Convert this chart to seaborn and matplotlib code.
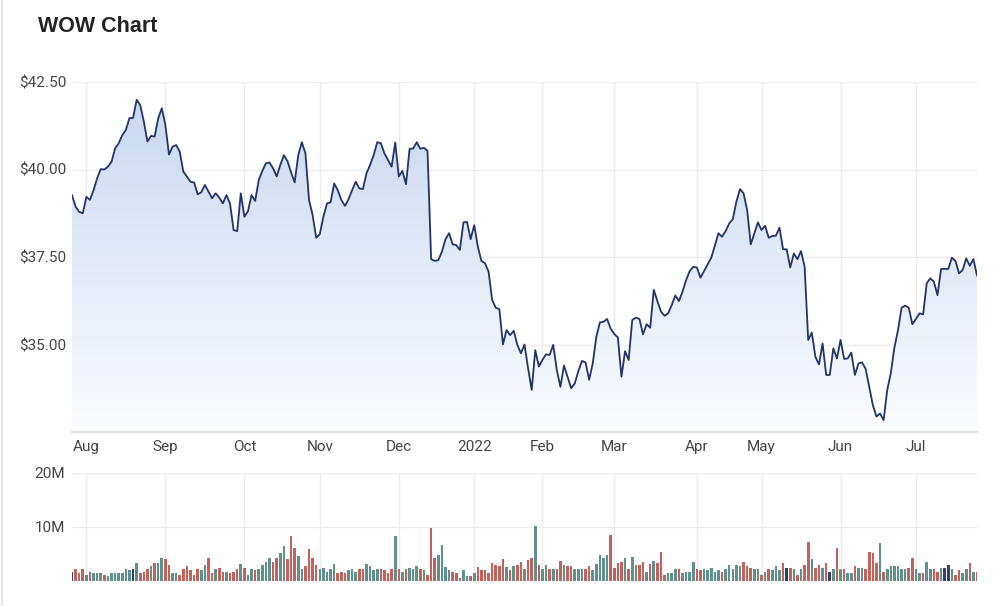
import numpy as np
import pandas as pd
import matplotlib
matplotlib.use("Agg")
import matplotlib.pyplot as plt
import seaborn as sns
from matplotlib.colors import LinearSegmentedColormap
from matplotlib.lines import Line2D

# ---------------- data ----------------
start_date = "2021-07-27"
end_date = "2022-07-26"
market_holidays = ["2021-12-27", "2021-12-28", "2022-01-03", "2022-01-26",
                   "2022-04-15", "2022-04-18", "2022-04-25", "2022-06-13"]

close_price = [
    39.27, 38.94, 38.79, 38.75, 39.22, 39.13, 39.41, 39.75, 40.01, 40.00,
    40.08, 40.22, 40.60, 40.75, 40.98, 41.13, 41.47, 41.47, 41.99, 41.84,
    41.37, 40.80, 40.96, 40.94, 41.46, 41.75, 41.27, 40.43, 40.65, 40.70,
    40.51, 39.94, 39.80, 39.65, 39.63, 39.29, 39.35, 39.56, 39.37, 39.18,
    39.32, 39.20, 39.03, 39.27, 39.03, 38.27, 38.24, 39.32, 38.65, 38.81,
    39.27, 39.10, 39.70, 39.96, 40.18, 40.20, 40.03, 39.80, 40.13, 40.41,
    40.24, 39.92, 39.63, 40.41, 40.78, 40.46, 39.13, 38.70, 38.05, 38.15,
    38.65, 39.03, 39.06, 39.60, 39.41, 39.13, 38.96, 39.15, 39.41, 39.65,
    39.46, 39.44, 39.89, 40.13, 40.41, 40.78, 40.75, 40.46, 40.27, 40.08,
    40.77, 39.80, 39.96, 39.58, 40.59, 40.60, 40.78, 40.59, 40.62, 40.53,
    37.44, 37.39, 37.41, 37.65, 38.01, 38.18, 37.86, 37.84, 37.70, 38.49,
    38.50, 38.01, 38.41, 37.80, 37.39, 37.32, 37.08, 36.27, 36.05, 36.01,
    35.00, 35.41, 35.27, 35.39, 34.99, 34.75, 35.00, 34.32, 33.70, 34.84,
    34.37, 34.56, 34.72, 34.70, 34.99, 34.27, 33.79, 34.40, 34.08, 33.75,
    33.89, 34.24, 34.53, 34.49, 33.99, 34.46, 35.22, 35.63, 35.65, 35.73,
    35.45, 35.30, 35.20, 34.08, 34.81, 34.56, 35.70, 35.77, 35.73, 35.29,
    35.58, 35.48, 36.56, 36.24, 35.94, 35.82, 35.89, 36.13, 36.40, 36.24,
    36.51, 36.84, 37.10, 37.22, 37.20, 36.91, 37.10, 37.29, 37.48, 37.82,
    38.18, 38.08, 38.24, 38.46, 38.58, 39.08, 39.44, 39.32, 38.84, 37.86,
    38.18, 38.49, 38.27, 38.39, 38.05, 38.10, 38.11, 38.34, 37.72, 37.72,
    37.20, 37.60, 37.44, 37.67, 37.22, 35.13, 35.34, 34.65, 34.43, 35.03,
    34.13, 34.13, 34.89, 34.60, 35.13, 34.59, 34.60, 34.77, 34.13, 34.46,
    34.49, 34.30, 33.79, 33.27, 32.94, 33.03, 32.84, 33.70, 34.18, 34.91,
    35.41, 36.05, 36.11, 36.05, 35.58, 35.73, 35.89, 35.86, 36.75, 36.89,
    36.79, 36.41, 37.16, 37.16, 37.16, 37.48, 37.39, 37.03, 37.13, 37.46,
    37.25, 37.44, 36.97,
]

volume_m = [
    1.7, 2.3, 1.5, 2.2, 1.2, 1.7, 1.5, 1.5, 1.4, 1.1,
    0.9, 1.5, 1.4, 1.5, 1.5, 2.3, 2.0, 2.2, 3.4, 1.5,
    1.7, 2.2, 2.8, 3.3, 3.3, 4.3, 4.0, 2.9, 1.5, 1.5,
    1.2, 2.2, 2.7, 2.0, 1.2, 2.2, 2.0, 2.9, 4.3, 1.5,
    2.3, 2.5, 1.7, 1.7, 1.4, 1.7, 2.2, 3.1, 2.5, 1.2,
    2.3, 2.0, 2.3, 2.9, 3.5, 4.2, 3.6, 4.2, 5.1, 6.4,
    4.0, 8.3, 6.2, 4.6, 2.3, 2.8, 5.9, 4.3, 2.9, 2.3,
    2.5, 1.7, 2.2, 3.1, 1.5, 1.7, 1.5, 2.0, 2.3, 1.7,
    2.3, 2.3, 3.1, 2.7, 2.0, 2.3, 2.2, 2.0, 1.5, 2.2,
    8.3, 2.2, 1.7, 2.3, 2.5, 2.2, 2.7, 2.2, 2.0, 1.2,
    9.8, 4.3, 4.9, 6.6, 2.6, 2.0, 1.7, 1.5, 0.5, 2.0,
    0.9, 0.9, 1.4, 2.6, 2.0, 2.0, 1.5, 3.4, 3.0, 2.8,
    4.0, 2.6, 2.0, 2.8, 3.0, 3.6, 2.3, 3.8, 4.3, 10.2,
    2.9, 2.2, 2.9, 2.2, 2.2, 2.2, 3.7, 2.9, 2.7, 2.7,
    2.3, 2.3, 2.3, 2.2, 2.7, 2.0, 3.1, 4.9, 4.3, 4.8,
    8.5, 2.5, 3.4, 3.6, 4.3, 2.3, 4.5, 2.9, 2.9, 3.5,
    1.7, 3.1, 3.7, 3.4, 5.4, 1.2, 1.5, 1.5, 2.2, 2.2,
    1.5, 1.7, 1.7, 3.6, 2.2, 2.0, 2.2, 2.0, 2.5, 1.7,
    2.0, 1.7, 2.2, 2.9, 2.2, 2.9, 2.7, 3.6, 2.7, 2.5,
    2.2, 2.2, 1.1, 1.7, 2.2, 2.0, 2.7, 2.0, 3.4, 2.5,
    2.5, 2.3, 1.2, 2.3, 2.9, 7.2, 4.0, 2.5, 2.9, 2.5,
    3.3, 1.7, 2.3, 6.2, 2.3, 2.2, 1.5, 1.5, 2.7, 2.5,
    2.5, 2.3, 5.4, 5.1, 3.3, 7.0, 1.7, 2.2, 2.7, 2.7,
    2.7, 2.2, 2.2, 2.5, 4.3, 2.2, 1.5, 1.5, 3.5, 2.3,
    2.2, 1.7, 2.5, 2.5, 3.0, 2.2, 1.1, 2.0, 1.4, 2.3,
    3.4, 1.7, 1.7,
]

price_ticks = [35.0, 37.5, 40.0, 42.5]
price_tick_labels = ["$35.00", "$37.50", "$40.00", "$42.50"]
volume_ticks = [10, 20]
volume_tick_labels = ["10M", "20M"]
title_text = "WOW Chart"

# ---------------- derived ----------------
dates = pd.bdate_range(start_date, end_date)
dates = dates[~dates.isin(pd.to_datetime(market_holidays))]
n = len(close_price)
dates = dates[:n]
idx = np.arange(n)

month_pos, month_lab = [], []
prev = None
for i, d in enumerate(dates):
    key = (d.year, d.month)
    if key != prev:
        if i > 0:
            month_pos.append(i)
            month_lab.append(str(d.year) if d.month == 1 else d.strftime("%b"))
        prev = key

diffs = np.round(np.diff(np.array(close_price)), 4)
direction = ["flat"] + ["up" if v > 0 else ("down" if v < 0 else "flat") for v in diffs]
vol_df = pd.DataFrame({"i": idx, "vol": volume_m, "dir": direction})
price_df = pd.DataFrame({"i": idx, "close": close_price})

# ---------------- style ----------------
sns.set_theme(style="white")
plt.rcParams["font.family"] = ["Roboto", "DejaVu Sans"]

LINE = "#22346a"
GRID = "#ececec"
TXT = "#444444"
pal = {"up": "#559a93", "down": "#d5514a", "flat": "#27397a"}

fig = plt.figure(figsize=(10, 6.06), dpi=100)
fig.patch.set_facecolor("white")

W, H = 1000, 606
def axrect(x0, y0, x1, y1):
    return [x0 / W, 1 - y1 / H, (x1 - x0) / W, (y1 - y0) / H]

ax = fig.add_axes(axrect(72, 82, 977, 432))
axv = fig.add_axes(axrect(72, 473, 977, 581))

ymin, ymax = 32.5, 42.5
# gradient area fill
poly = ax.fill_between(idx, close_price, ymin, color="none", lw=0)
grad = np.linspace(0, 1, 256).reshape(-1, 1)
cmap = LinearSegmentedColormap.from_list("g", ["#fbfcff", "#e2eaf7", "#c6d7ef"])
im = ax.imshow(grad, extent=[0, n - 1, ymin, ymax], origin="lower",
               aspect="auto", cmap=cmap, zorder=1, interpolation="bicubic")
im.set_clip_path(poly.get_paths()[0], transform=ax.transData)

sns.lineplot(data=price_df, x="i", y="close", ax=ax, color=LINE, lw=1.3, zorder=3)

ax.set_xlim(0, n - 1)
ax.set_ylim(ymin, ymax)
ax.set_yticks(price_ticks)
ax.set_yticklabels(price_tick_labels)
ax.set_xticks(month_pos)
ax.set_xticklabels(month_lab)
ax.set_xlabel("")
ax.set_ylabel("")
ax.grid(True, color=GRID, lw=1.0, zorder=0)
ax.set_axisbelow(True)
for s in ["top", "right", "left"]:
    ax.spines[s].set_visible(False)
ax.spines["bottom"].set_color("#e2e2e2")
ax.spines["bottom"].set_linewidth(1.6)
ax.tick_params(axis="both", length=0, labelsize=11, colors=TXT)
ax.tick_params(axis="y", pad=4)
ax.tick_params(axis="x", pad=6)

# volume bars
sns.barplot(data=vol_df, x="i", y="vol", hue="dir", palette=pal, dodge=False,
            native_scale=True, width=0.72, errorbar=None, legend=False,
            ax=axv, zorder=3, linewidth=0)
axv.set_xlim(0, n - 1)
axv.set_ylim(0, 20)
axv.set_yticks(volume_ticks)
axv.set_yticklabels(volume_tick_labels)
axv.set_xticks(month_pos)
axv.set_xticklabels([])
axv.set_xlabel("")
axv.set_ylabel("")
axv.grid(True, color=GRID, lw=1.0, zorder=0)
axv.set_axisbelow(True)
for s in ["top", "right", "left", "bottom"]:
    axv.spines[s].set_visible(False)
axv.tick_params(axis="both", length=0, labelsize=11, colors=TXT)
axv.tick_params(axis="y", pad=5)

fig.text(38 / W, 1 - 26 / H, title_text, ha="left", va="center",
         fontsize=15.5, fontweight="bold", color="#222222",
         family=["Liberation Sans", "DejaVu Sans"])
fig.add_artist(Line2D([2 / W, 2 / W], [0, 1], color="#e4e4e4", lw=1.5))

fig.savefig("out.png", dpi=100, facecolor="white")
